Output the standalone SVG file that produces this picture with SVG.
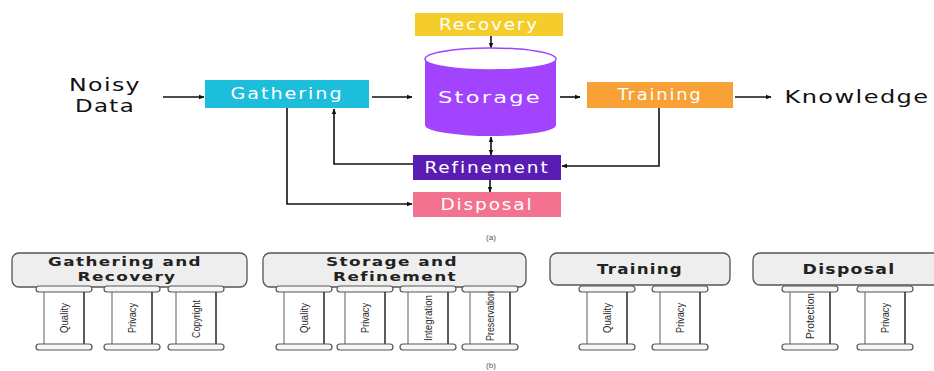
<svg xmlns="http://www.w3.org/2000/svg" xmlns:xlink="http://www.w3.org/1999/xlink" width="934" height="371" viewBox="0 0 934 371">
  <style>
    .lbl { font-family: "DejaVu Sans", "Liberation Sans", sans-serif; fill: #ffffff; font-size: 15px; text-anchor: middle; letter-spacing: 1.5px; }
    .plain { font-family: "DejaVu Sans", "Liberation Sans", sans-serif; fill: #111111; font-size: 17px; text-anchor: middle; letter-spacing: 1px; }
    .edge { fill: none; stroke: #111111; stroke-width: 1.6; }
    .head { fill: #eeeeee; stroke: #555555; stroke-width: 1.3; }
    .htxt { font-family: "DejaVu Sans", "Liberation Sans", sans-serif; font-weight: bold; fill: #222222; font-size: 13.5px; text-anchor: middle; letter-spacing: 1px; }
    .htxt2 { font-family: "DejaVu Sans", "Liberation Sans", sans-serif; font-weight: bold; fill: #222222; font-size: 12px; text-anchor: middle; letter-spacing: 1px; }
    .ptxt { font-family: "Liberation Sans", "DejaVu Sans", sans-serif; fill: #2a2a2a; font-size: 11px; text-anchor: middle; }
    .cap { fill: #f6f6f6; stroke: #555555; stroke-width: 1.2; }
    .shaft-l { stroke: #777777; stroke-width: 1.2; }
    .shaft-r { stroke: #333333; stroke-width: 1.6; }
    .cap-txt { font-family: "Liberation Sans", sans-serif; fill: #555555; font-size: 8px; text-anchor: middle; }
  </style>
  <defs>
    <marker id="arr" viewBox="0 0 10 10" refX="9" refY="5" markerWidth="6" markerHeight="6" orient="auto-start-reverse" markerUnits="userSpaceOnUse">
      <path d="M0,1 L10,5 L0,9 Z" fill="#111111"/>
    </marker>
    <!-- column: top capital, two shaft lines, base -->
    <g id="pillar">
      <rect class="cap" x="-28" y="0" width="56" height="6" rx="3"/>
      <line class="shaft-l" x1="-20" y1="6" x2="-20" y2="58"/>
      <line class="shaft-r" x1="20" y1="6" x2="20" y2="58"/>
      <rect class="cap" x="-28" y="58" width="56" height="6" rx="3"/>
    </g>
  </defs>
  <rect width="934" height="371" fill="#ffffff"/>

  <!-- connectors -->
  <g id="connectors">
    <line class="edge" x1="163" y1="97" x2="204" y2="97" marker-end="url(#arr)"/>
    <line class="edge" x1="372" y1="97" x2="412" y2="97" marker-end="url(#arr)"/>
    <line class="edge" x1="560" y1="97" x2="580" y2="97" marker-end="url(#arr)"/>
    <line class="edge" x1="735" y1="97" x2="771" y2="97" marker-end="url(#arr)"/>
    <line class="edge" x1="491" y1="36" x2="491" y2="48" marker-end="url(#arr)"/>
    <line class="edge" x1="491" y1="137" x2="491" y2="155" marker-start="url(#arr)" marker-end="url(#arr)"/>
    <line class="edge" x1="490" y1="180" x2="490" y2="192" marker-end="url(#arr)"/>
    <polyline class="edge" points="287,108 287,204 412,204" marker-end="url(#arr)"/>
    <polyline class="edge" points="413,164 334,164 334,109" marker-end="url(#arr)"/>
    <polyline class="edge" points="659,108 659,166 562,166" marker-end="url(#arr)"/>
  </g>

  <!-- pipeline nodes -->
  <g id="noisy-data">
    <text class="plain" x="105" y="91" font-size="15.5" textLength="72" lengthAdjust="spacingAndGlyphs">Noisy</text>
    <text class="plain" x="105" y="112" font-size="15.5" textLength="60" lengthAdjust="spacingAndGlyphs">Data</text>
  </g>
  <g id="gathering">
    <rect x="205" y="80" width="164" height="28" fill="#1cbedb"/>
    <text class="lbl" x="287" y="99" textLength="113" lengthAdjust="spacingAndGlyphs">Gathering</text>
  </g>
  <g id="recovery">
    <rect x="415" y="13" width="148" height="23" fill="#f4cd2a"/>
    <text class="lbl" x="489" y="30" textLength="100" lengthAdjust="spacingAndGlyphs">Recovery</text>
  </g>
  <g id="storage">
    <path d="M425,59 L425,125 A65.5,11 0 0 0 556,125 L556,59 Z" fill="#a244fd"/>
    <ellipse cx="490.5" cy="59" rx="65.5" ry="11" fill="#ffffff" stroke="#a244fd" stroke-width="1.5"/>
    <text class="lbl" x="490" y="103" font-size="19" textLength="104" lengthAdjust="spacingAndGlyphs">Storage</text>
  </g>
  <g id="training">
    <rect x="587" y="82" width="146" height="26" fill="#f7a137"/>
    <text class="lbl" x="660" y="100" textLength="85" lengthAdjust="spacingAndGlyphs">Training</text>
  </g>
  <g id="knowledge">
    <text class="plain" x="857" y="103" font-size="18" textLength="145" lengthAdjust="spacingAndGlyphs">Knowledge</text>
  </g>
  <g id="refinement">
    <rect x="413" y="155" width="148" height="25" fill="#5a1db4"/>
    <text class="lbl" x="487" y="173" textLength="125" lengthAdjust="spacingAndGlyphs">Refinement</text>
  </g>
  <g id="disposal">
    <rect x="413" y="192" width="148" height="25" fill="#f27290"/>
    <text class="lbl" x="487" y="210" textLength="93" lengthAdjust="spacingAndGlyphs">Disposal</text>
  </g>
  <text class="cap-txt" x="491" y="240">(a)</text>

  <!-- governance pillars, stage 1 -->
  <g id="gathering-recovery">
    <rect class="head" x="12" y="253" width="235" height="34" rx="7"/>
    <text class="htxt2" x="125" y="266" textLength="154" lengthAdjust="spacingAndGlyphs">Gathering and</text>
    <text class="htxt2" x="127" y="281" textLength="99" lengthAdjust="spacingAndGlyphs">Recovery</text>
  </g>
  <g id="gr-quality"><use href="#pillar" x="64" y="286"/><text class="ptxt" transform="translate(68,318) rotate(-90)" textLength="30" lengthAdjust="spacingAndGlyphs">Quality</text></g>
  <g id="gr-privacy"><use href="#pillar" x="132" y="286"/><text class="ptxt" transform="translate(136,318) rotate(-90)" textLength="30" lengthAdjust="spacingAndGlyphs">Privacy</text></g>
  <g id="gr-copyright"><use href="#pillar" x="196" y="286"/><text class="ptxt" transform="translate(200,319) rotate(-90)" textLength="38" lengthAdjust="spacingAndGlyphs">Copyright</text></g>

  <!-- stage 2 -->
  <g id="storage-refinement">
    <rect class="head" x="263" y="253" width="263" height="34" rx="7"/>
    <text class="htxt2" x="392" y="266" textLength="132" lengthAdjust="spacingAndGlyphs">Storage and</text>
    <text class="htxt2" x="395" y="281" textLength="124" lengthAdjust="spacingAndGlyphs">Refinement</text>
  </g>
  <g id="sr-quality"><use href="#pillar" x="304" y="286"/><text class="ptxt" transform="translate(308,318) rotate(-90)" textLength="30" lengthAdjust="spacingAndGlyphs">Quality</text></g>
  <g id="sr-privacy"><use href="#pillar" x="365" y="286"/><text class="ptxt" transform="translate(369,318) rotate(-90)" textLength="30" lengthAdjust="spacingAndGlyphs">Privacy</text></g>
  <g id="sr-integration"><use href="#pillar" x="428" y="286"/><text class="ptxt" transform="translate(432,318) rotate(-90)" textLength="46" lengthAdjust="spacingAndGlyphs">Integration</text></g>
  <g id="sr-preservation"><use href="#pillar" x="490" y="286"/><text class="ptxt" transform="translate(494,316) rotate(-90)" textLength="50" lengthAdjust="spacingAndGlyphs">Preservation</text></g>

  <!-- stage 3 -->
  <g id="training-stage">
    <rect class="head" x="550" y="253" width="180" height="32" rx="7"/>
    <text class="htxt" x="640" y="274" textLength="86" lengthAdjust="spacingAndGlyphs">Training</text>
  </g>
  <g id="tr-quality"><use href="#pillar" x="607" y="286"/><text class="ptxt" transform="translate(611,318) rotate(-90)" textLength="30" lengthAdjust="spacingAndGlyphs">Quality</text></g>
  <g id="tr-privacy"><use href="#pillar" x="680" y="286"/><text class="ptxt" transform="translate(684,318) rotate(-90)" textLength="30" lengthAdjust="spacingAndGlyphs">Privacy</text></g>

  <!-- stage 4 -->
  <g id="disposal-stage">
    <rect class="head" x="753" y="253" width="200" height="32" rx="7"/>
    <text class="htxt" x="849" y="274" textLength="93" lengthAdjust="spacingAndGlyphs">Disposal</text>
  </g>
  <g id="dp-protection"><use href="#pillar" x="810" y="286"/><text class="ptxt" transform="translate(814,316) rotate(-90)" textLength="46" lengthAdjust="spacingAndGlyphs">Protection</text></g>
  <g id="dp-privacy"><use href="#pillar" x="885" y="286"/><text class="ptxt" transform="translate(889,318) rotate(-90)" textLength="30" lengthAdjust="spacingAndGlyphs">Privacy</text></g>

  <text class="cap-txt" x="491" y="368">(b)</text>
</svg>
